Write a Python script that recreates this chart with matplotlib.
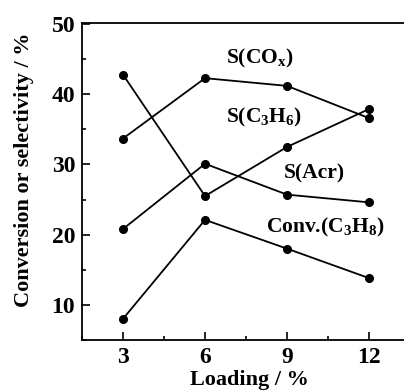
"""Conversion and selectivity versus loading."""
import matplotlib

matplotlib.use("Agg")
import matplotlib.pyplot as plt
from matplotlib.ticker import MultipleLocator

plt.rcParams["font.family"] = "Liberation Serif"
plt.rcParams["font.weight"] = "bold"
plt.rcParams["axes.labelweight"] = "bold"
plt.rcParams["mathtext.fontset"] = "custom"
plt.rcParams["mathtext.rm"] = "Liberation Serif:bold"
plt.rcParams["mathtext.it"] = "Liberation Serif:italic:bold"
plt.rcParams["mathtext.default"] = "rm"

loading = [3, 6, 9, 12]
s_cox = [33.7, 42.3, 41.2, 36.6]
s_c3h6 = [42.8, 25.5, 32.5, 37.9]
s_acr = [20.8, 30.1, 25.7, 24.6]
conv_c3h8 = [8.0, 22.1, 18.0, 13.8]

series = [s_cox, s_c3h6, s_acr, conv_c3h8]
labels = [
    (r"S(CO$_\mathrm{x}$)", 8.0, 45.1),
    (r"S(C$_\mathrm{3}$H$_\mathrm{6}$)", 8.15, 36.7),
    (r"S(Acr)", 10.0, 28.7),
    (r"Conv.(C$_\mathrm{3}$H$_\mathrm{8}$)", 10.4, 21.0),
]

fig = plt.figure(figsize=(4.04, 3.92), dpi=100)
ax = fig.add_axes([0.203, 0.133, 0.812, 0.809])

for values in series:
    ax.plot(loading, values, color="black", linewidth=1.3, marker="o", markersize=5.5)

for text, x, y in labels:
    ax.text(x, y, text, fontsize=15.5, ha="center", va="center")

ax.set_xlim(1.5, 13.5)
ax.set_ylim(5, 50.2)
ax.xaxis.set_major_locator(MultipleLocator(3))
ax.xaxis.set_minor_locator(MultipleLocator(1.5))
ax.yaxis.set_major_locator(MultipleLocator(10))
ax.yaxis.set_minor_locator(MultipleLocator(5))
ax.tick_params(which="both", direction="in", top=False, right=False, labelsize=17, width=1.2)
ax.tick_params(which="major", length=6, pad=5)
ax.tick_params(which="minor", length=3)
for spine in ax.spines.values():
    spine.set_linewidth(1.3)

ax.set_xlabel("Loading / %", fontsize=16)
ax.set_ylabel("Conversion or selectivity / %", fontsize=16)
ax.xaxis.set_label_coords(0.51, -0.095)
ax.yaxis.set_label_coords(-0.145, 0.535)

fig.savefig("out.png", dpi=100, facecolor="white")
